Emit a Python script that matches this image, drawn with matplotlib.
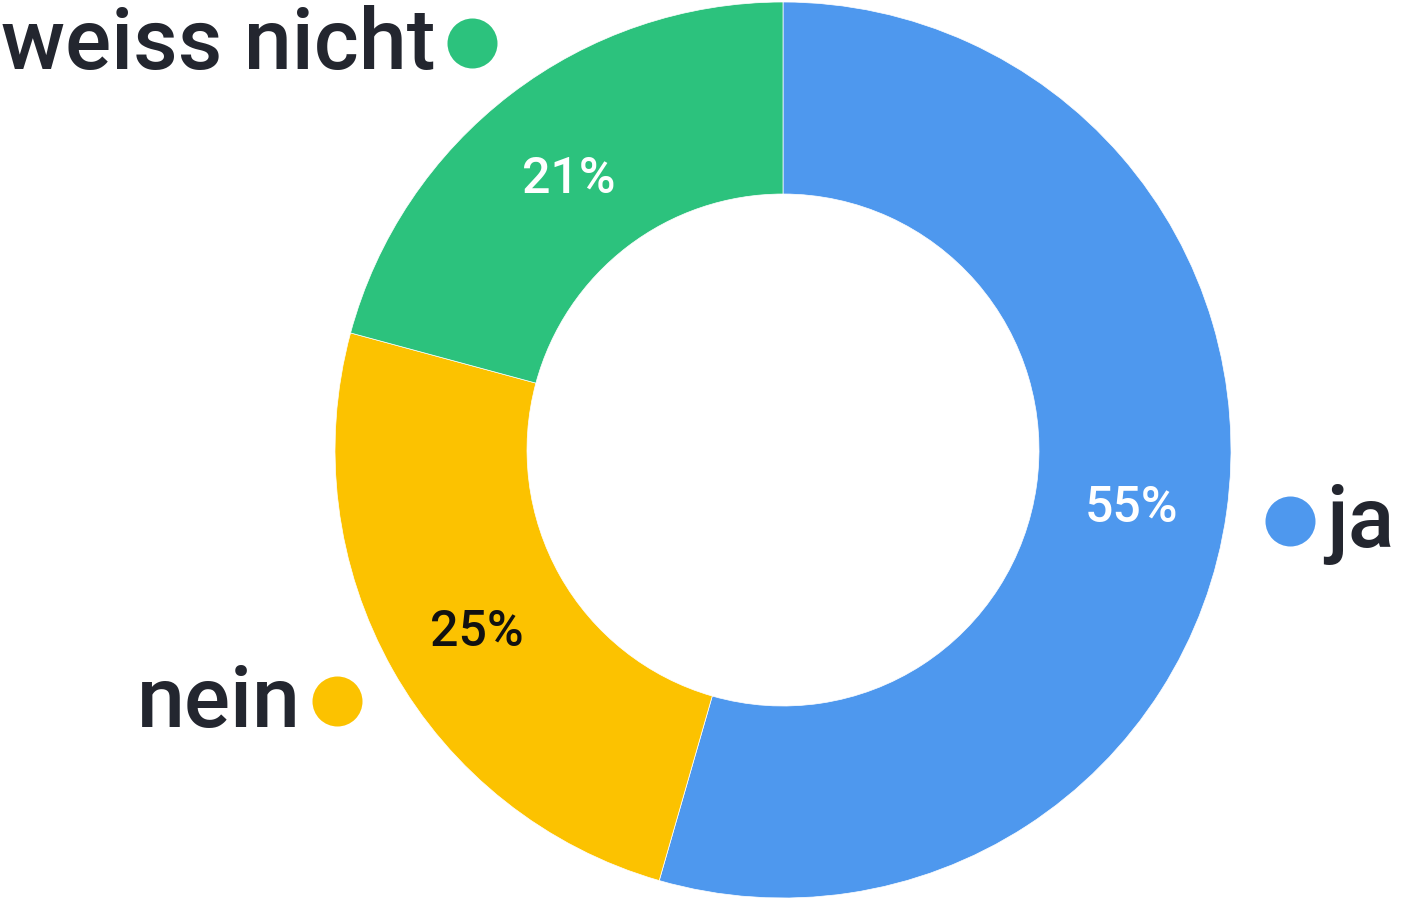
import matplotlib

matplotlib.use("Agg")
import matplotlib.pyplot as plt
import numpy as np

categories = ["ja", "nein", "weiss nicht"]
values = [55, 25, 21]
pct_labels = ["55%", "25%", "21%"]
colors = ["#4E98EE", "#FCC200", "#2CC27D"]
pct_colors = ["white", "#111111", "white"]

TEXT = "#23262F"
FONT = ["Roboto", "DejaVu Sans"]
W, H = 1404, 904
cx, cy, r_out, r_in = 783, 453, 448, 256

fig = plt.figure(figsize=(W / 100, H / 100), dpi=100)
ax = fig.add_axes([0, 0, 1, 1])

wedges, _ = ax.pie(values, colors=colors, startangle=90, counterclock=False,
                   center=(cx, cy), radius=r_out, frame=True,
                   wedgeprops=dict(width=r_out - r_in, edgecolor="white", linewidth=0.5))
ax.set_xlim(0, W)
ax.set_ylim(0, H)
ax.set_aspect("equal")
ax.axis("off")

r_pct = (r_out + r_in) / 2
r_dot = 512
for w, cat, pl, pc, col in zip(wedges, categories, pct_labels, pct_colors, colors):
    mid = np.deg2rad((w.theta1 + w.theta2) / 2)
    # percentage inside the ring, slightly below the mid-radius point
    ax.text(cx + r_pct * np.cos(mid), cy + r_pct * np.sin(mid) - 8, pl,
            ha="center", va="center", fontsize=36, color=pc,
            family=FONT, fontweight="medium")
    dx, dy = cx + r_dot * np.cos(mid), cy + r_dot * np.sin(mid)
    ax.plot(dx, dy, "o", ms=36, color=col, mec="none")
    side = 1 if np.cos(mid) > 0 else -1
    ax.text(dx + side * 36, dy - 25, cat, ha="left" if side > 0 else "right",
            va="baseline", fontsize=62, color=TEXT, family=FONT,
            fontweight="medium")

fig.savefig("out.png", dpi=100)
